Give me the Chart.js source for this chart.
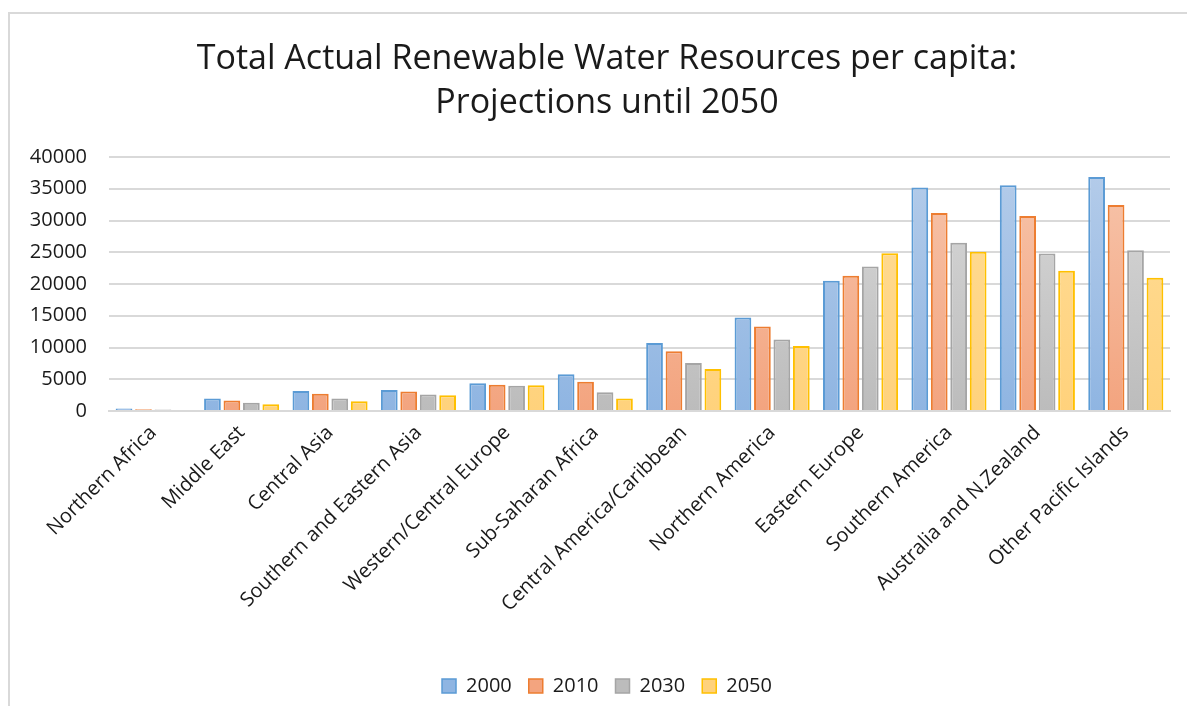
<!DOCTYPE html>
<html>
<head>
<meta charset="utf-8">
<script src="https://cdn.jsdelivr.net/npm/chart.js@4"></script>
<style>
  body { margin: 0; background: #fff; }
  #frame {
    position: absolute; left: 8px; top: 12px; right: 0; bottom: 0;
    border-left: 2px solid #d9d9d9; border-top: 2px solid #d9d9d9;
  }
  #chart { position: absolute; left: 0; top: 0; }
</style>
</head>
<body>
<div id="frame"></div>
<canvas id="chart" width="1187" height="706"></canvas>
<script>
const regions = [
    'Northern Africa', 'Middle East', 'Central Asia', 'Southern and Eastern Asia',
    'Western/Central Europe', 'Sub-Saharan Africa', 'Central America/Caribbean',
    'Northern America', 'Eastern Europe', 'Southern America', 'Australia and N.Zealand',
    'Other Pacific Islands'
];
const years = ['2000', '2010', '2030', '2050'];

const values2000 = [380, 1980, 3140, 3300, 4360, 5800, 10730, 14730, 20500, 35200, 35550, 36850];
const values2010 = [270, 1650, 2710, 3070, 4140, 4600, 9420, 13310, 21300, 31200, 30700, 32450];
const values2030 = [220, 1280, 1980, 2610, 3980, 2950, 7570, 11260, 22750, 26500, 24800, 25300];
const values2050 = [160, 1070, 1550, 2500, 4040, 1950, 6620, 10250, 24850, 25100, 22100, 21000];

const yTicks = [0, 5000, 10000, 15000, 20000, 25000, 30000, 35000, 40000];

const fontFamily = "'Open Sans', 'Noto Sans', sans-serif";
const textColor = '#1a1a1a';
const gridColor = '#d9d9d9';

// [top of gradient, bottom of gradient, border]
const palette = [
    ['#b6cdea', '#8fb5e2', '#5b9bd5'],
    ['#f7c6ad', '#f3a47f', '#ed7d31'],
    ['#dadada', '#bcbcbc', '#a5a5a5'],
    ['#ffdd99', '#ffd27c', '#ffc000']
];

function gradientFill(idx) {
    return function(context) {
        const chart = context.chart;
        const area = chart.chartArea;
        if (!area) return palette[idx][1];
        const g = chart.ctx.createLinearGradient(0, area.top, 0, area.bottom);
        g.addColorStop(0, palette[idx][0]);
        g.addColorStop(1, palette[idx][1]);
        return g;
    };
}

// nudge title and legend to the right, the original centres them a bit off the canvas middle
const shiftBlocks = {
    id: 'shiftBlocks',
    afterLayout(chart) {
        const dx = 22;
        [chart.titleBlock, chart.legend].forEach(box => {
            if (!box) return;
            box.left += dx;
            box.right += dx;
        });
    }
};

const seriesValues = [values2000, values2010, values2030, values2050];
const datasets = years.map((year, i) => ({
    label: year,
    data: seriesValues[i],
    backgroundColor: gradientFill(i),
    borderColor: palette[i][2],
    borderWidth: 2,
    categoryPercentage: 0.88,
    barPercentage: 0.86
}));

new Chart(document.getElementById('chart'), {
    type: 'bar',
    data: { labels: regions, datasets: datasets },
    plugins: [shiftBlocks],
    options: {
        responsive: false,
        animation: false,
        layout: { padding: { left: 0, right: 17, top: 0, bottom: 0 } },
        plugins: {
            title: {
                display: true,
                text: ['Total Actual Renewable Water Resources per capita:', 'Projections until 2050'],
                color: textColor,
                font: { family: fontFamily, size: 34, weight: 'normal', lineHeight: 1.28 },
                padding: { top: 38, bottom: 32 }
            },
            legend: {
                position: 'bottom',
                labels: {
                    color: textColor,
                    font: { family: fontFamily, size: 20 },
                    boxWidth: 14,
                    boxHeight: 14,
                    padding: 17,
                    generateLabels: function(chart) {
                        return years.map((year, i) => ({
                            text: year,
                            fillStyle: palette[i][1],
                            strokeStyle: palette[i][2],
                            lineWidth: 1.5,
                            fontColor: textColor,
                            datasetIndex: i
                        }));
                    }
                }
            },
            tooltip: { enabled: false }
        },
        scales: {
            x: {
                grid: { display: false },
                border: { color: gridColor, width: 2 },
                ticks: {
                    color: textColor,
                    font: { family: fontFamily, size: 20 },
                    minRotation: 45,
                    maxRotation: 45,
                    padding: 2
                },
                afterFit: function(scale) { scale.height = 248; }
            },
            y: {
                min: 0,
                max: 40000,
                afterBuildTicks: function(scale) {
                    scale.ticks = yTicks.map(v => ({ value: v }));
                },
                grid: { color: gridColor, lineWidth: 2, drawTicks: false },
                border: { display: false },
                ticks: {
                    color: textColor,
                    font: { family: fontFamily, size: 20 },
                    padding: 22,
                    callback: function(value) { return String(value); }
                },
                afterFit: function(scale) { scale.width = 109; }
            }
        }
    }
});
</script>
</body>
</html>
